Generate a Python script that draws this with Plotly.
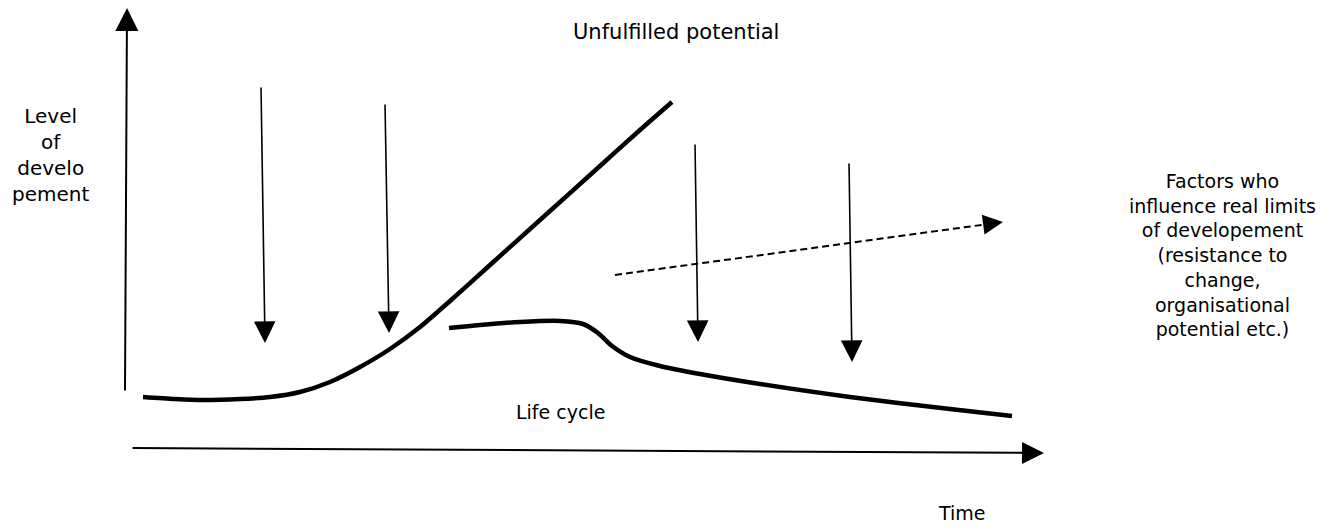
import plotly.graph_objects as go

W, H = 1333, 527
FONT = "DejaVu Sans"
OFF = 8  # default page margin of the html body

# Curves (diagram units: x to the right, y downward)
potential_x = [143, 175, 203, 240, 270, 300, 330, 360, 390, 420, 450, 490, 540, 600, 640, 672]
potential_y = [397, 399, 400, 399, 397, 392, 382, 367, 349, 327, 301, 265, 220, 166, 130, 102]

lifecycle_x = [449, 480, 520, 560, 583, 598, 612, 630, 660, 700, 760, 850, 950, 1012]
lifecycle_y = [328, 325, 322, 321, 324, 333, 346, 357, 366, 374, 384, 397, 409, 416]

# Downward "factor" arrows: (tail_x, tail_y, tip_x, tip_y)
factor_arrows = [
    (261, 86, 265, 343),
    (385, 103, 389, 333),
    (695, 143, 698, 342),
    (849, 162, 852, 362),
]

# Axis arrows
y_axis_arrow = (125, 392, 127, 8)
x_axis_arrow = (131, 448, 1044, 453)

# Dashed trend arrow
trend_start = (615, 275)
trend_end = (1003, 222)

labels = [
    ("Unfulfilled potential", 676, 32, 21),
    ("Life cycle", 560, 412, 19),
    ("Time", 962, 513, 19),
    ("Level<br>of<br>develo<br>pement", 50, 155, 20),
    ("Factors who<br>influence real limits<br>of developement<br>(resistance to<br>change,<br>organisational<br>potential etc.)", 1222, 255, 19),
]

fig = go.Figure()

fig.add_trace(go.Scatter(x=potential_x, y=potential_y, mode="lines",
                         line=dict(color="black", width=4.5, shape="spline", smoothing=0.8),
                         hoverinfo="skip"))
fig.add_trace(go.Scatter(x=lifecycle_x, y=lifecycle_y, mode="lines",
                         line=dict(color="black", width=4.5, shape="spline", smoothing=0.8),
                         hoverinfo="skip"))

# dashed line
dx = trend_end[0] - trend_start[0]
dy = trend_end[1] - trend_start[1]
L = (dx * dx + dy * dy) ** 0.5
fig.add_trace(go.Scatter(x=[trend_start[0], trend_end[0] - 10 * dx / L],
                         y=[trend_start[1], trend_end[1] - 10 * dy / L],
                         mode="lines", line=dict(color="black", width=2, dash="7px,4px"),
                         hoverinfo="skip"))

annotations = []

def arrow(tail_x, tail_y, tip_x, tip_y, width, size):
    annotations.append(dict(
        x=tip_x, y=tip_y, ax=tail_x, ay=tail_y,
        xref="x", yref="y", axref="x", ayref="y",
        text="", showarrow=True, arrowhead=2, arrowsize=size,
        arrowwidth=width, arrowcolor="black", standoff=0, startstandoff=0,
    ))

for a in factor_arrows:
    arrow(*a, width=1.6, size=2.7)

arrow(*y_axis_arrow, width=2, size=2.3)
arrow(*x_axis_arrow, width=2, size=2.2)

# head for dashed arrow
arrow(trend_end[0] - 18 * dx / L, trend_end[1] - 18 * dy / L, trend_end[0], trend_end[1], width=2, size=2.0)

for text, x, y, size in labels:
    annotations.append(dict(
        x=x, y=y, xref="x", yref="y", text=text, showarrow=False,
        xanchor="center", yanchor="middle", align="center",
        font=dict(family=FONT, size=size, color="black"),
    ))

fig.update_layout(
    width=W, height=H,
    margin=dict(l=0, r=0, t=0, b=0),
    paper_bgcolor="white", plot_bgcolor="white",
    showlegend=False,
    annotations=annotations,
    xaxis=dict(range=[OFF, W + OFF], visible=False, fixedrange=True),
    yaxis=dict(range=[H + OFF, OFF], visible=False, fixedrange=True),
)

fig.write_html("out.html")
